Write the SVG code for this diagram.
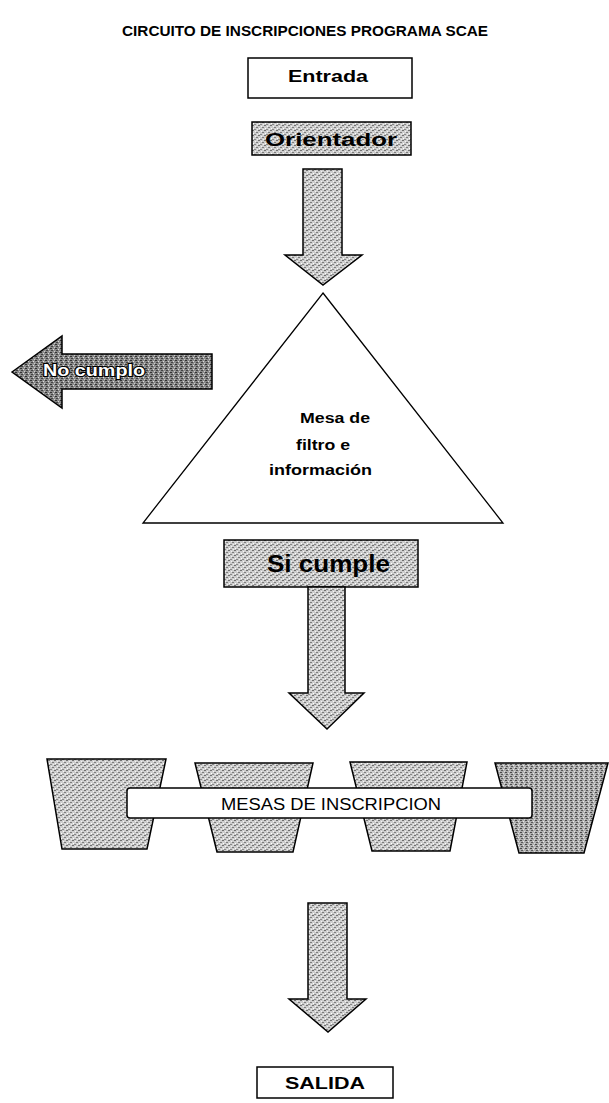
<svg xmlns="http://www.w3.org/2000/svg" width="609" height="1103" viewBox="0 0 609 1103">
<style>
.t{font-family:"Liberation Sans",Arial,sans-serif;fill:#000}
.b{font-weight:bold}
.box{fill:#fff;stroke:#000;stroke-width:1.5}
.tex{fill:url(#tex);stroke:#000;stroke-width:1.5}
.mid{fill:url(#texm);stroke:#000;stroke-width:1.5}
.dark{fill:url(#texd);stroke:#000;stroke-width:1.5}
.con{fill:url(#tex);stroke:#000;stroke-width:1.5}
</style>
<defs>
<pattern id="tex" width="6" height="5" patternUnits="userSpaceOnUse">
<rect width="6" height="5" fill="#cdcdcd"/>
<rect x="0" y="0" width="2" height="1" fill="#707070"/>
<rect x="3" y="1" width="1" height="1" fill="#f4f4f4"/>
<rect x="4" y="2" width="2" height="1" fill="#7c7c7c"/>
<rect x="1" y="3" width="1" height="1" fill="#fff"/>
<rect x="2" y="4" width="2" height="1" fill="#888"/>
<rect x="5" y="4" width="1" height="1" fill="#f0f0f0"/>
</pattern>
<pattern id="texm" width="5" height="4" patternUnits="userSpaceOnUse">
<rect width="5" height="4" fill="#b0b0b0"/>
<rect x="0" y="0" width="2" height="1" fill="#4a4a4a"/>
<rect x="3" y="1" width="1" height="1" fill="#e8e8e8"/>
<rect x="1" y="2" width="2" height="1" fill="#5a5a5a"/>
<rect x="4" y="3" width="1" height="1" fill="#ddd"/>
</pattern>
<pattern id="texd" width="5" height="4" patternUnits="userSpaceOnUse">
<rect width="5" height="4" fill="#8a8a8a"/>
<rect x="0" y="0" width="2" height="1" fill="#333"/>
<rect x="3" y="1" width="1" height="1" fill="#ddd"/>
<rect x="1" y="2" width="2" height="1" fill="#444"/>
<rect x="4" y="3" width="1" height="1" fill="#ccc"/>
</pattern>
</defs>

<text id="title" class="t b" x="305" y="36" font-size="15.5" text-anchor="middle" textLength="366" lengthAdjust="spacingAndGlyphs">CIRCUITO DE INSCRIPCIONES PROGRAMA SCAE</text>

<g id="entrada">
<rect class="box" x="248" y="58" width="164" height="40"/>
<text class="t b" x="328" y="82" font-size="17" text-anchor="middle" textLength="80" lengthAdjust="spacingAndGlyphs">Entrada</text>
</g>

<g id="orientador">
<rect class="tex" x="252" y="122" width="159" height="33"/>
<text class="t b" x="331" y="146" font-size="18" text-anchor="middle" textLength="132" lengthAdjust="spacingAndGlyphs">Orientador</text>
</g>

<g id="filtro">
<path d="M323,293 L503,523 L143,523 Z" fill="none" stroke="#000" stroke-width="1.3"/>
<text class="t b" font-size="14">
<tspan x="300" y="423" textLength="70" lengthAdjust="spacingAndGlyphs">Mesa de</tspan>
<tspan x="296" y="450" textLength="54" lengthAdjust="spacingAndGlyphs">filtro e</tspan>
<tspan x="269" y="475" textLength="103" lengthAdjust="spacingAndGlyphs">información</tspan>
</text>
</g>

<g id="nocumplo">
<path class="dark" d="M12,372 L62,336 V354 H212 V389 H62 V408 Z"/>
<text class="t b" x="43" y="376" font-size="17" textLength="102" lengthAdjust="spacingAndGlyphs" style="fill:#fff;stroke:#000;stroke-width:2.2;paint-order:stroke">No cumplo</text>
</g>

<g id="sicumple">
<rect class="tex" x="224" y="540" width="194" height="47"/>
<text class="t b" x="267" y="572" font-size="23" textLength="123" lengthAdjust="spacingAndGlyphs">Si cumple</text>
</g>

<g id="mesas">
<polygon class="tex" points="47,759 166,759 147,849 62,849"/>
<polygon class="tex" points="195,763 313,763 293,852 217,852"/>
<polygon class="tex" points="350,762 467,762 450,851 372,851"/>
<polygon class="mid" points="495,763 608,763 584,853 519,853"/>
<rect class="box" x="127" y="788" width="405" height="30" rx="3"/>
<text class="t" x="331" y="810" font-size="16" text-anchor="middle" textLength="220" lengthAdjust="spacingAndGlyphs">MESAS DE INSCRIPCION</text>
</g>

<g id="salida">
<rect class="box" x="257" y="1067" width="136" height="31"/>
<text class="t b" x="325" y="1089" font-size="17" text-anchor="middle" textLength="80" lengthAdjust="spacingAndGlyphs">SALIDA</text>
</g>

<g id="connectors">
<path class="con" d="M303,169 H342 V255 H362 L323,285 L285,255 H303 Z"/>
<path class="con" d="M308,587 H345 V693 H364 L327,729 L289,693 H308 Z"/>
<path class="con" d="M308,903 H347 V999 H366 L328,1032 L289,999 H308 Z"/>
</g>
</svg>
